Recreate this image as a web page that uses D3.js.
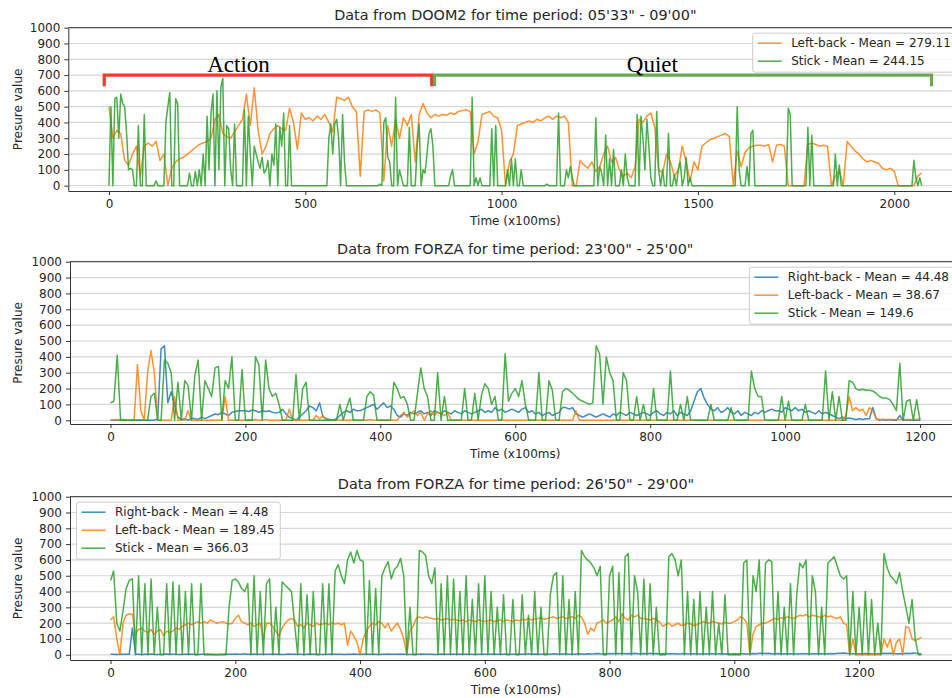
<!DOCTYPE html>
<html>
<head>
<meta charset="utf-8">
<style>
  html, body { margin: 0; padding: 0; background: #fff; }
  svg { display: block; font-family: "DejaVu Sans", sans-serif; }
</style>
</head>
<body>
<div id="chart"></div>
<script src="https://cdnjs.cloudflare.com/ajax/libs/d3/7.8.5/d3.min.js"></script>
<script>
// ---------- data ----------
const titles = [
  `Data from DOOM2 for time period: 05'33" - 09'00"`,
  `Data from FORZA for time period: 23'00" - 25'00"`,
  `Data from FORZA for time period: 26'50" - 29'00"`
];
const xLabel = "Time (x100ms)";
const yLabel = "Presure value";
const yTicks = [0, 100, 200, 300, 400, 500, 600, 700, 800, 900, 1000];
const doomXTicks = [0, 500, 1000, 1500, 2000];
const forzaXTicks = [0, 200, 400, 600, 800, 1000, 1200];

const doomLabels = ["Left-back - Mean = 279.11", "Stick - Mean = 244.15"];
const forzaALabels = ["Right-back - Mean = 44.48", "Left-back - Mean = 38.67", "Stick - Mean = 149.6"];
const forzaBLabels = ["Right-back - Mean = 4.48", "Left-back - Mean = 189.45", "Stick - Mean = 366.03"];

// sample spacing (x100ms) of each array
const doomLeftStep = 10;
const doomStickStep = 5;
const forzaStep = 5;

const doomLeftBack = [
  500,300,350,330,160,130,200,250,60,250,
  270,250,280,160,200,0,110,150,170,180,
  200,220,240,260,270,280,300,420,450,330,
  310,300,340,380,420,580,380,620,350,200,
  250,330,360,380,360,350,490,400,230,460,
  420,430,410,440,420,450,400,340,560,550,
  540,560,500,470,60,470,480,470,480,460,
  30,380,250,420,300,430,380,450,150,450,
  520,460,430,450,440,450,445,460,450,470,
  475,480,470,200,280,450,460,470,440,430,
  350,0,150,200,380,390,400,410,400,420,
  410,430,440,420,440,430,440,400,0,0,
  160,130,110,150,90,120,200,250,150,180,
  100,60,80,50,120,420,400,440,460,370,
  100,80,200,150,60,100,250,150,30,150,
  100,250,270,290,300,310,320,330,310,0,
  220,120,210,240,250,255,255,250,260,150,
  255,260,250,0,0,0,0,0,260,270,
  260,250,255,250,0,60,100,0,280,250,
  220,200,170,150,160,150,140,110,100,110,
  90,0,0,0,0,0,60,80
];

const doomStick = [
  0,500,0,550,560,300,580,520,500,330,
  100,110,100,0,0,380,0,0,450,0,
  0,0,0,0,30,0,0,0,0,400,
  500,590,0,0,550,520,0,0,0,0,
  0,80,0,0,90,0,100,0,200,0,
  440,100,460,580,0,600,100,620,680,0,
  380,360,100,0,390,0,0,0,0,480,
  0,440,200,0,250,200,150,110,180,80,
  100,160,0,200,130,390,0,370,250,460,
  0,0,380,0,0,0,0,0,0,0,
  0,0,0,0,0,0,0,0,0,0,
  0,0,300,390,200,390,420,300,0,450,
  150,0,0,0,0,0,0,0,0,0,
  0,0,0,0,0,0,0,0,10,0,
  400,430,180,150,0,0,560,0,100,50,
  0,0,0,370,0,0,0,250,390,0,
  100,80,200,330,360,250,0,0,0,0,
  0,0,0,0,60,100,0,0,0,0,
  0,0,0,0,0,560,0,50,0,50,
  0,0,0,0,0,360,0,380,0,0,
  0,0,0,100,0,170,0,170,0,0,
  100,0,0,0,0,0,0,0,0,0,
  0,0,0,10,0,0,0,0,0,460,
  0,0,0,100,50,120,50,0,0,0,
  0,0,0,0,0,0,0,0,430,0,
  120,80,0,320,0,170,0,230,0,0,
  0,100,0,200,50,0,0,0,0,450,
  0,440,300,100,420,250,50,0,0,470,
  100,0,100,0,0,330,0,0,70,0,
  100,150,0,50,180,0,50,0,0,0,
  0,0,0,0,0,0,0,0,0,0,
  0,0,0,0,0,0,0,0,0,0,
  500,100,0,0,0,120,0,330,350,0,
  0,0,0,0,0,0,0,0,0,0,
  0,0,0,0,0,0,490,450,0,0,
  0,0,0,0,0,0,370,0,320,0,
  0,0,0,0,0,0,0,0,0,0,
  200,0,130,0,0,0,0,0,0,0,
  0,0,0,0,0,0,0,0,0,0,
  0,0,0,0,0,0,0,0,0,0,
  0,0,0,0,0,0,0,0,0,0,
  160,50,0,50,0
];

const forzaARightBack = [
  0,0,0,0,0,0,0,0,0,0,
  0,0,0,0,10,450,470,110,180,100,
  20,5,10,0,15,10,5,20,10,20,
  30,40,35,50,40,30,50,55,60,60,
  60,55,65,60,50,60,55,60,50,45,
  50,70,40,20,10,0,20,40,60,90,
  80,60,110,20,10,5,0,10,30,50,
  60,50,70,60,60,70,80,90,100,70,
  90,110,80,90,70,30,20,40,30,50,
  40,50,60,40,50,30,60,50,40,60,
  50,40,60,50,40,60,50,40,50,60,
  70,50,60,50,80,60,70,50,60,70,
  60,50,70,80,50,60,40,50,30,40,
  50,30,40,50,80,80,70,80,40,30,
  20,30,40,30,20,30,40,30,20,40,
  30,50,40,30,50,40,30,40,50,40,
  30,50,60,40,30,50,40,60,30,50,
  40,30,60,120,180,200,140,100,70,60,
  80,50,60,80,50,40,60,30,50,40,
  30,50,40,60,50,60,70,60,60,50,
  80,70,60,80,60,70,50,60,50,40,
  60,40,50,40,30,20,10,20,10,15,
  10,5,10,5,10,10,80,10,0,5,
  0,5,0,0,30,0,0,0,0,0,
  0
];

const forzaALeftBack = [
  0,3,5,3,5,0,3,0,350,60,
  0,300,440,300,0,0,0,0,0,150,
  0,0,0,60,0,0,0,0,0,0,
  0,0,0,0,150,0,0,0,0,0,
  0,5,0,5,0,0,5,0,0,0,
  0,0,0,70,0,0,0,0,0,0,
  0,30,10,30,0,0,0,5,0,0,
  0,0,5,0,0,0,0,5,0,0,
  0,0,0,0,0,0,30,50,20,40,
  60,30,50,0,40,60,30,50,40,30,
  50,0,0,0,0,0,0,0,0,0,
  0,0,0,0,0,0,0,0,0,0,
  0,0,0,0,0,0,0,0,0,0,
  0,0,0,0,0,0,0,0,60,0,
  0,0,0,0,0,0,0,0,0,0,
  0,0,0,0,0,0,0,0,0,0,
  0,0,0,0,0,0,0,0,0,0,
  0,0,0,0,0,0,0,0,0,0,
  0,0,0,0,0,0,0,0,0,0,
  0,0,0,0,0,0,0,0,0,0,
  0,0,0,0,0,0,0,0,0,0,
  0,0,0,0,0,0,0,0,30,150,
  60,80,60,70,30,80,60,10,5,5,
  5,5,5,5,5,5,5,5,5,5,
  10
];

const forzaAStick = [
  110,120,410,0,0,0,0,0,0,0,
  0,0,150,170,0,0,380,360,300,0,
  240,0,250,220,0,280,380,0,250,200,
  150,330,340,0,250,200,400,0,0,320,
  0,0,0,400,350,0,380,200,150,170,
  100,0,0,0,0,290,0,200,240,0,
  0,0,0,0,0,0,0,0,100,0,
  80,140,0,0,0,0,150,180,160,0,
  0,0,0,0,240,200,140,150,100,0,
  0,170,330,200,150,0,0,300,0,150,
  0,0,0,0,0,200,0,0,170,0,
  160,230,200,100,150,0,0,420,120,170,
  200,150,250,100,0,0,0,300,0,0,
  250,190,0,0,180,200,190,170,150,130,
  120,110,100,110,470,420,100,400,300,250,
  0,0,300,250,0,0,150,0,100,0,
  0,200,0,0,0,0,310,0,0,100,
  0,150,0,0,0,0,0,0,100,0,
  0,0,0,0,80,0,0,0,0,0,
  310,200,150,150,0,0,0,0,0,150,
  0,120,0,0,0,0,100,0,0,0,
  0,0,310,0,180,0,150,0,0,250,
  240,200,190,195,190,190,185,170,150,140,
  140,130,100,60,360,0,120,130,0,130,
  0
];

const forzaBRightBack = [
  3,4,2,5,3,4,3,170,4,3,
  2,4,3,5,3,2,4,3,5,3,
  4,3,2,4,3,5,3,4,2,3,
  3,5,4,3,2,4,3,5,3,4,
  5,3,4,6,3,4,5,3,4,3,
  3,4,5,3,4,2,3,5,4,3,
  4,3,2,4,5,3,4,3,2,4,
  3,5,4,3,4,2,3,4,5,3,
  4,3,5,4,3,4,2,3,4,5,
  3,4,3,5,4,3,2,4,3,4,
  5,3,4,3,2,4,5,3,4,3,
  4,3,5,4,3,4,3,2,4,3,
  3,4,3,5,4,3,4,5,3,4,
  4,5,3,4,6,4,5,4,3,5,
  5,4,6,5,4,5,6,4,5,4,
  6,5,4,7,5,6,8,6,5,7,
  8,6,10,7,9,6,8,7,9,6,
  7,8,6,9,7,8,6,7,8,6,
  6,7,5,6,8,6,5,7,6,5,
  6,5,7,6,5,6,7,5,6,5,
  6,5,7,6,5,6,8,7,9,10,
  8,9,7,6,8,7,6,5,7,6,
  5,6,7,6,5,7,6,8,7,6,
  7,8,6,9,10,12,9,8,7,6,
  7,6,8,7,6,5,7,8,9,8,
  10,8,7,6,7,9,8,10,12,8,
  5
];

const forzaBLeftBack = [
  220,240,100,0,200,250,260,255,130,160,
  170,150,140,160,130,150,160,120,150,140,
  150,170,160,180,190,200,190,200,210,200,
  210,200,220,210,200,205,210,200,195,200,
  230,250,210,200,190,200,180,190,200,100,
  200,200,180,150,120,170,200,220,230,220,
  180,190,170,200,190,180,200,190,195,200,
  190,200,195,200,190,200,60,150,120,80,
  0,100,150,180,200,190,210,200,170,200,
  150,180,200,160,100,0,150,180,230,240,
  230,240,235,230,225,230,220,225,230,220,
  225,220,215,220,210,220,215,210,220,215,
  210,215,220,210,215,220,210,220,215,210,
  220,215,225,220,230,220,225,230,235,225,
  230,235,240,230,235,240,230,235,240,230,
  250,240,200,130,170,150,200,210,220,200,
  210,220,240,210,260,230,220,250,240,250,
  230,230,225,220,230,220,210,180,190,200,
  180,190,200,185,190,200,195,185,190,200,
  210,205,200,210,205,200,195,205,200,200,
  210,220,240,230,200,0,130,180,190,200,
  200,210,220,230,225,235,230,240,235,230,
  240,250,245,255,240,250,245,240,235,250,
  240,245,235,230,240,200,190,0,100,0,
  0,0,0,0,0,0,0,0,100,50,
  100,0,80,100,0,180,170,100,90,100,
  110
];

const forzaBStick = [
  470,530,200,150,280,420,470,480,0,500,
  0,450,0,480,0,300,0,0,450,0,
  460,0,440,0,400,0,450,0,0,450,
  0,0,0,0,0,0,0,0,300,470,
  480,460,420,400,450,0,500,0,400,0,
  450,480,0,300,0,460,440,420,400,200,
  0,450,0,380,0,400,0,0,450,0,
  450,0,530,570,500,450,600,650,580,660,
  600,590,0,470,0,420,0,500,550,590,
  480,540,560,610,500,0,300,0,0,660,
  650,630,500,450,550,0,450,0,500,0,
  480,0,400,0,500,0,350,0,450,0,
  500,0,400,0,300,0,380,0,0,350,
  0,0,380,0,250,0,400,0,300,0,
  0,380,500,520,0,500,0,350,0,400,
  0,660,620,600,580,550,500,560,0,0,
  500,560,0,520,0,620,640,0,500,400,
  0,480,0,450,0,300,0,0,0,620,
  640,600,500,600,0,400,0,350,0,400,
  0,300,0,400,0,200,0,380,0,0,
  0,0,0,580,600,0,500,400,600,0,
  580,600,590,0,400,0,300,0,450,0,
  380,580,550,600,0,500,400,0,300,0,
  580,600,620,560,500,480,500,0,400,0,
  300,0,400,0,350,0,200,0,640,550,
  500,480,450,520,400,300,200,350,100,0,
  0
];

// hand-drawn brackets over the DOOM2 panel, in data units [time, value]
const actionBracket = [[-12, 630], [-12, 700], [822, 700], [822, 630]];
const quietBracket = [[829, 630], [829, 700], [2095, 700], [2095, 630]];
const bracketLabels = [
  { text: "Action", x: 330, y: 718 },
  { text: "Quiet", x: 1384, y: 718 }
];

// ---------- drawing ----------
const colors = { right: "#1f77b4", left: "#ff7f0e", stick: "#2ca02c" };
const W = 952, H = 698;

const panels = [
  {
    title: titles[0], top: 27.7, bottom: 191, left: 68.3, right: 962.4,
    xTicks: doomXTicks, legend: "right",
    series: [
      { name: doomLabels[0], values: doomLeftBack, step: doomLeftStep, color: colors.left },
      { name: doomLabels[1], values: doomStick, step: doomStickStep, color: colors.stick }
    ]
  },
  {
    title: titles[1], top: 261.7, bottom: 424, left: 70, right: 960.5,
    xTicks: forzaXTicks, legend: "right",
    series: [
      { name: forzaALabels[0], values: forzaARightBack, step: forzaStep, color: colors.right },
      { name: forzaALabels[1], values: forzaALeftBack, step: forzaStep, color: colors.left },
      { name: forzaALabels[2], values: forzaAStick, step: forzaStep, color: colors.stick }
    ]
  },
  {
    title: titles[2], top: 496.7, bottom: 660, left: 70, right: 962,
    xTicks: forzaXTicks, legend: "left",
    series: [
      { name: forzaBLabels[0], values: forzaBRightBack, step: forzaStep, color: colors.right },
      { name: forzaBLabels[1], values: forzaBLeftBack, step: forzaStep, color: colors.left },
      { name: forzaBLabels[2], values: forzaBStick, step: forzaStep, color: colors.stick }
    ]
  }
];

const svg = d3.select("#chart").append("svg")
  .attr("width", W).attr("height", H);

panels.forEach((p, pi) => {
  const xMax = d3.max(p.series, s => (s.values.length - 1) * s.step);
  const yMax = d3.max(p.series, s => d3.max(s.values));
  const x = d3.scaleLinear().domain([-0.05 * xMax, 1.05 * xMax]).range([p.left, p.right]);
  const y = d3.scaleLinear().domain([-0.05 * yMax, 1000]).range([p.bottom, p.top]);
  p.x = x; p.y = y;

  const g = svg.append("g");

  // horizontal grid
  g.append("g").selectAll("line").data(yTicks).join("line")
    .attr("x1", p.left).attr("x2", p.right)
    .attr("y1", d => y(d)).attr("y2", d => y(d))
    .attr("stroke", "#d6d6d6").attr("stroke-width", 1.2);

  // series
  const line = d3.line().x(d => x(d[0])).y(d => y(d[1]));
  p.series.forEach(s => {
    g.append("path")
      .datum(s.values.map((v, i) => [i * s.step, v]))
      .attr("d", line)
      .attr("fill", "none")
      .attr("stroke", s.color)
      .attr("stroke-opacity", 0.85)
      .attr("stroke-width", 1.5)
      .attr("stroke-linejoin", "round");
  });

  // axes
  const xAxis = g.append("g").attr("transform", `translate(0,${p.bottom})`)
    .call(d3.axisBottom(x).tickValues(p.xTicks).tickFormat(d3.format("d"))
      .tickSize(4).tickSizeOuter(0).tickPadding(4));
  const yAxis = g.append("g").attr("transform", `translate(${p.left},0)`)
    .call(d3.axisLeft(y).tickValues(yTicks).tickFormat(d3.format("d"))
      .tickSize(4).tickSizeOuter(0).tickPadding(4));
  [xAxis, yAxis].forEach(a => {
    a.selectAll("text").attr("font-size", 12).attr("fill", "#262626")
      .attr("font-family", "DejaVu Sans, sans-serif");
    a.selectAll("line").attr("stroke", "#333");
    a.select(".domain").attr("stroke", "#333");
  });
  g.append("line").attr("x1", p.left).attr("x2", p.right)
    .attr("y1", p.top).attr("y2", p.top).attr("stroke", "#333");

  // titles and labels
  const cx = (p.left + p.right) / 2;
  g.append("text").attr("x", cx).attr("y", p.top - 7.5)
    .attr("text-anchor", "middle").attr("font-size", 14.4).attr("fill", "#262626")
    .text(p.title);
  g.append("text").attr("x", cx).attr("y", p.bottom + 34)
    .attr("text-anchor", "middle").attr("font-size", 12).attr("fill", "#262626")
    .text(xLabel);
  g.append("text")
    .attr("transform", `translate(22,${(p.top + p.bottom) / 2}) rotate(-90)`)
    .attr("text-anchor", "middle").attr("font-size", 12).attr("fill", "#262626")
    .text(yLabel);

  // legend
  const lg = g.append("g");
  const box = lg.append("rect");
  const items = lg.selectAll("g").data(p.series).join("g");
  items.append("line").attr("stroke", d => d.color).attr("stroke-width", 1.5)
    .attr("stroke-opacity", 0.85);
  const texts = items.append("text").attr("font-size", 12).attr("fill", "#262626")
    .attr("dominant-baseline", "central").text(d => d.name);
  const tw = d3.max(texts.nodes(), n => n.getComputedTextLength());
  const bw = 38.5 + tw + 5.5;
  const bh = 18 * p.series.length + 3;
  const bx = p.legend === "right" ? p.right - 6 - bw : p.left + 6.5;
  const by = p.top + 5.5;
  box.attr("x", bx).attr("y", by).attr("width", bw).attr("height", bh)
    .attr("rx", 2.5).attr("fill", "#fff").attr("fill-opacity", 0.8)
    .attr("stroke", "#cccccc").attr("stroke-width", 1);
  items.select("line")
    .attr("x1", bx + 5).attr("x2", bx + 29)
    .attr("y1", (d, i) => by + 10 + 18 * i).attr("y2", (d, i) => by + 10 + 18 * i);
  texts.attr("x", bx + 38.5).attr("y", (d, i) => by + 10 + 18 * i);
});

// bracket annotations on the DOOM2 panel
const p0 = panels[0];
const bracketLine = d3.line().x(d => p0.x(d[0])).y(d => p0.y(d[1]));
svg.append("path").attr("d", bracketLine(actionBracket))
  .attr("fill", "none").attr("stroke", "#ee3b2b").attr("stroke-width", 3.2);
svg.append("path").attr("d", bracketLine(quietBracket))
  .attr("fill", "none").attr("stroke", "#6aa84f").attr("stroke-width", 3.2);
svg.append("g").selectAll("text").data(bracketLabels).join("text")
  .attr("x", d => p0.x(d.x)).attr("y", d => p0.y(d.y))
  .attr("text-anchor", "middle")
  .attr("font-family", "Liberation Serif, Times New Roman, serif")
  .attr("font-size", 23).attr("fill", "#000")
  .text(d => d.text);
</script>
</body>
</html>
